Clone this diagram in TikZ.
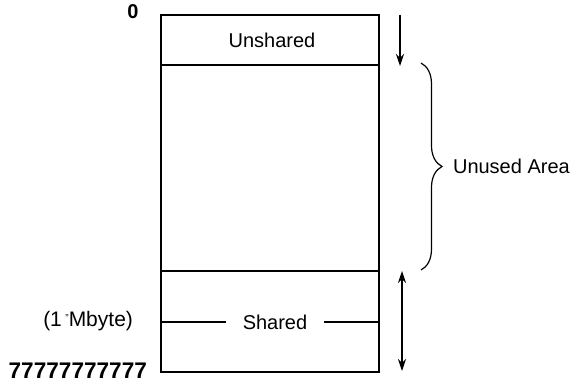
\documentclass[tikz,border=0pt]{standalone}
\usepackage{fontspec}
\setmainfont{Liberation Sans}
\usetikzlibrary{
  positioning,
  arrows.meta,
  decorations.pathreplacing
}

\begin{document}
\begin{tikzpicture}[x=0.5pt,y=-0.5pt,font=\fontsize{10}{12}\selectfont]
  \useasboundingbox (0,0) rectangle (579,385);
  % 枠
  \coordinate (TL) at (161,15);
  \coordinate (BR) at (379,372);
  \draw[line width=1.2pt] (TL) rectangle (BR);
  % 区切り線
  \draw[semithick] (161,65)--(379,65);
  \draw[semithick] (161,271)--(379,271);
  % 領域の名前
  \node (U) at (272,40) {Unshared};
  \node[inner xsep=8pt] (S) at (275,322) {Shared};
  \draw[semithick] (161,322)--(S.west);
  \draw[semithick] (S.east)--(379,322);
  % 矢印
  \coordinate (A1) at (400,15);
  \coordinate (A2) at (400,66);
  \draw[-{Stealth[length=6pt,width=4pt]},semithick] (A1)--(A2);
  \coordinate (B1) at (402,271);
  \coordinate (B2) at (402,371);
  \draw[{Stealth[length=6pt,width=4pt]}-{Stealth[length=6pt,width=4pt]},semithick] (B1)--(B2);
  % 未使用領域
  \coordinate (C1) at (421,63);
  \coordinate (C2) at (421,270);
  \draw[semithick,decorate,decoration={brace,amplitude=10.5pt}] (C1)--(C2);
  \node[right] (N) at (446,166) {Unused Area};
  % アドレス
  \node (Z) at (133,12) {\bfseries 0};
  \node[left,font=\fontsize{10.5}{12}\selectfont] (M) at (140,321) {(1\,\raisebox{.4ex}{\tiny''}Mbyte)};
  \node[left,font=\bfseries\fontsize{11.3}{13}\selectfont] (E) at (154,371) {77777777777};
\end{tikzpicture}
\end{document}
